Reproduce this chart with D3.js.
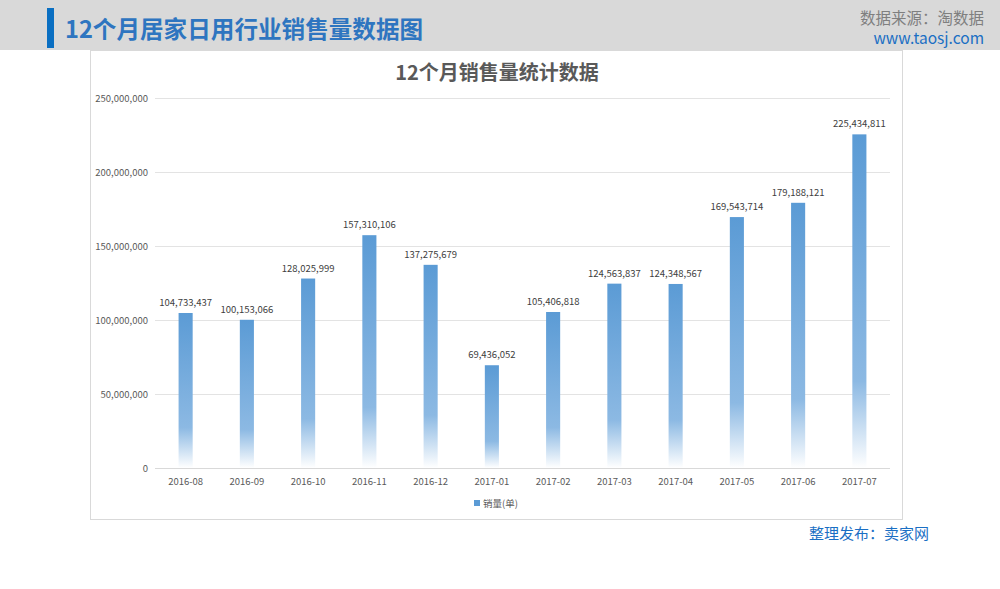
<!DOCTYPE html>
<html><head><meta charset="utf-8">
<script src="https://cdn.jsdelivr.net/npm/d3@7"></script>
<style>
body{margin:0;background:#fff;font-family:"Noto Sans CJK SC","Microsoft YaHei",sans-serif;}
</style></head>
<body><svg id="c" width="1000" height="589"></svg>
<script>
const categories = ["2016-08","2016-09","2016-10","2016-11","2016-12","2017-01","2017-02","2017-03","2017-04","2017-05","2017-06","2017-07"];
const sales = [104733437,100153066,128025999,157310106,137275679,69436052,105406818,124563837,124348567,169543714,179188121,225434811];
const yTicks = [0,50000000,100000000,150000000,200000000,250000000];
const seriesName = "销量(单)";

const svg = d3.select("#c");
const font = '"Noto Sans CJK SC", sans-serif';

// header band
svg.append("rect").attr("x",0).attr("y",0).attr("width",1000).attr("height",50).attr("fill","#d9d9d9");
svg.append("rect").attr("x",47).attr("y",8).attr("width",7).attr("height",40).attr("fill","#0a6fc2");
svg.append("text").attr("x",65).attr("y",38).attr("font-family",font).attr("font-weight","bold")
  .attr("font-size",23.6).attr("fill","#2e75c0").text("12个月居家日用行业销售量数据图");
svg.append("text").attr("x",984).attr("y",24).attr("text-anchor","end").attr("font-family",font)
  .attr("font-size",15.5).attr("fill","#7f7f7f").text("数据来源：淘数据");
svg.append("text").attr("x",984).attr("y",44).attr("text-anchor","end").attr("font-family",font)
  .attr("font-size",15.5).attr("fill","#1a6fc4").text("www.taosj.com");

// chart frame
svg.append("rect").attr("x",90.5).attr("y",50.5).attr("width",812).attr("height",469)
  .attr("fill","#fff").attr("stroke","#d9d9d9");

svg.append("text").attr("x",497).attr("y",80).attr("text-anchor","middle").attr("font-family",font)
  .attr("font-weight","bold").attr("font-size",20).attr("fill","#595959").text("12个月销售量统计数据");

const x = d3.scaleBand().domain(categories).range([155,890]).paddingInner(0.77).paddingOuter(0.385);
const y = d3.scaleLinear().domain([0,250000000]).range([468,98]);

const defs = svg.append("defs");
const g = defs.append("linearGradient").attr("id","bg").attr("x1",0).attr("y1",0).attr("x2",0).attr("y2",1);
g.append("stop").attr("offset","0%").attr("stop-color","#5b9bd5");
g.append("stop").attr("offset","74%").attr("stop-color","#8cb9e3");
g.append("stop").attr("offset","100%").attr("stop-color","#ffffff");

// grid
const yAxis = d3.axisLeft(y).tickValues(yTicks).tickSize(0).tickPadding(7)
  .tickFormat(d => d===0 ? "0" : d3.format(",")(d));
const ya = svg.append("g").attr("transform","translate(155,0)").call(yAxis);
ya.select(".domain").remove();
ya.selectAll("text").attr("font-family",font).attr("font-size",9.5).attr("fill","#595959");
svg.append("g").selectAll("line").data(yTicks.filter(d=>d>0)).join("line")
  .attr("x1",155).attr("x2",890).attr("y1",d=>y(d)+0.5).attr("y2",d=>y(d)+0.5)
  .attr("stroke","#e3e3e3");
svg.append("line").attr("x1",155).attr("x2",890).attr("y1",y(0)+0.5).attr("y2",y(0)+0.5).attr("stroke","#d9d9d9");

// bars
svg.append("g").selectAll("rect").data(sales).join("rect")
  .attr("x",(d,i)=>x(categories[i])).attr("width",x.bandwidth())
  .attr("y",d=>y(d)).attr("height",d=>y(0)-y(d)).attr("fill","url(#bg)");

svg.append("g").selectAll("text").data(sales).join("text")
  .attr("x",(d,i)=>x(categories[i])+x.bandwidth()/2).attr("y",d=>y(d)-7)
  .attr("text-anchor","middle").attr("font-family",font).attr("font-size",9.5).attr("fill","#404040")
  .text(d=>d3.format(",")(d));

const xAxis = d3.axisBottom(x).tickSize(0).tickPadding(10);
const xa = svg.append("g").attr("transform","translate(0,468)").call(xAxis);
xa.select(".domain").remove();
xa.selectAll("text").attr("font-family",font).attr("font-size",9.5).attr("fill","#595959");

// legend
svg.append("rect").attr("x",474).attr("y",500).attr("width",6).attr("height",6).attr("fill","#5b9bd5");
svg.append("text").attr("x",483).attr("y",507).attr("font-family",font).attr("font-size",9.5)
  .attr("fill","#595959").text(seriesName);

svg.append("text").attr("x",929).attr("y",539).attr("text-anchor","end").attr("font-family",font)
  .attr("font-size",15).attr("fill","#1a6fc4").text("整理发布：卖家网");
</script></body></html>
